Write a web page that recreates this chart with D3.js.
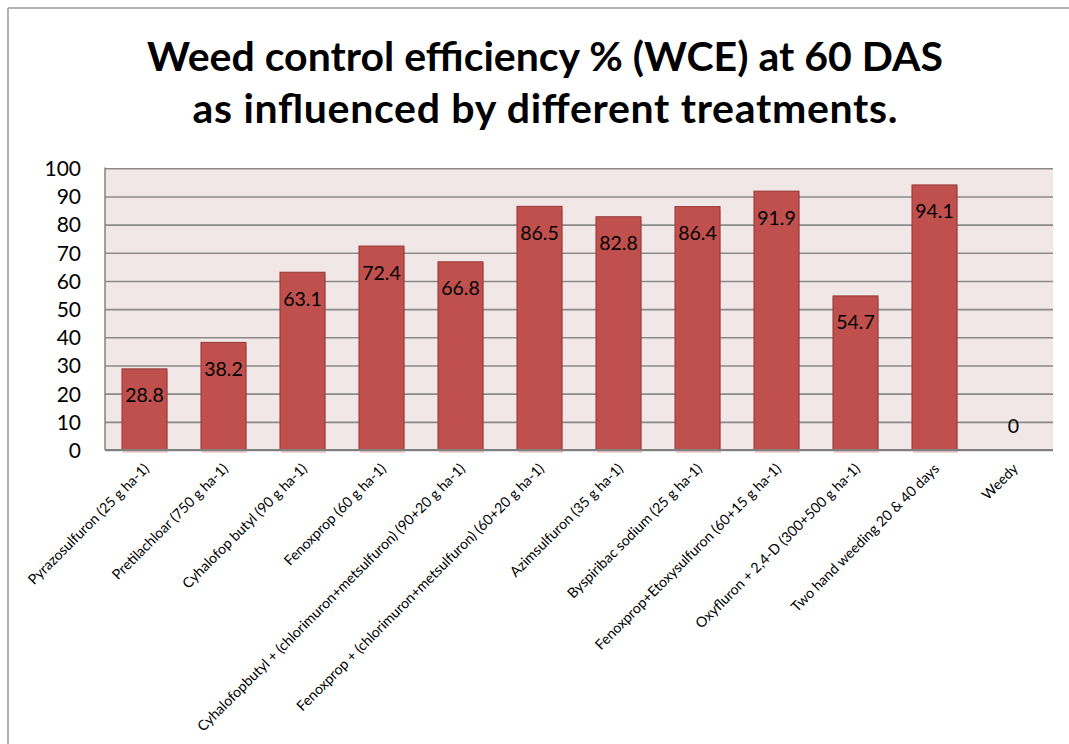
<!DOCTYPE html>
<html><head><meta charset="utf-8">
<script src="https://cdn.jsdelivr.net/npm/d3@7"></script>
<style>
html,body{margin:0;padding:0;background:#fff;}
svg{display:block;}
text{font-family:Lato,"Open Sans",sans-serif;fill:#000;}
</style></head>
<body>
<svg id="chart" width="1069" height="744"></svg>
<script>
const categories = [
  "Pyrazosulfuron (25 g ha-1)",
  "Pretilachloar (750 g ha-1)",
  "Cyhalofop butyl (90 g ha-1)",
  "Fenoxprop (60 g ha-1)",
  "Cyhalofopbutyl + (chlorimuron+metsulfuron) (90+20 g ha-1)",
  "Fenoxprop + (chlorimuron+metsulfuron) (60+20 g ha-1)",
  "Azimsulfuron (35 g ha-1)",
  "Byspiribac sodium (25 g ha-1)",
  "Fenoxprop+Etoxysulfuron (60+15 g ha-1)",
  "Oxyfluron + 2,4-D (300+500 g ha-1)",
  "Two hand weeding 20 & 40 days",
  "Weedy"
];
const values = [28.8, 38.2, 63.1, 72.4, 66.8, 86.5, 82.8, 86.4, 91.9, 54.7, 94.1, 0];
const yTicks = [0, 10, 20, 30, 40, 50, 60, 70, 80, 90, 100];
const titleLines = ["Weed control efficiency % (WCE) at 60 DAS", "as influenced by different treatments."];

const svg = d3.select("#chart");
const plot = {left: 105, right: 1053, top: 168.3, bottom: 450};

// outer chart border (top and left visible)
svg.append("line").attr("x1", 8).attr("x2", 1069).attr("y1", 8).attr("y2", 8)
  .attr("stroke", "#9a9a9a").attr("stroke-width", 1.5);
svg.append("line").attr("x1", 8).attr("x2", 8).attr("y1", 8).attr("y2", 744)
  .attr("stroke", "#9a9a9a").attr("stroke-width", 1.5);

// title
const titleBase = [71, 123];
const titleWidths = [796, 705];
const t0 = svg.append("text").attr("x", 545).attr("y", titleBase[0])
  .attr("text-anchor", "middle").attr("font-weight", "bold")
  .attr("font-size", 40).text(titleLines[0]);
const fs = 40 * titleWidths[0] / t0.node().getComputedTextLength();
t0.attr("font-size", fs);
const t1 = svg.append("text").attr("x", 545).attr("y", titleBase[1])
  .attr("text-anchor", "middle").attr("font-weight", "bold")
  .attr("font-size", fs).text(titleLines[1]);
t1.attr("textLength", titleWidths[1]).attr("lengthAdjust", "spacing");

const x = d3.scaleBand().domain(categories).range([plot.left, plot.right])
  .paddingInner(0.43).paddingOuter(0.215);
const y = d3.scaleLinear().domain([0, 100]).range([plot.bottom, plot.top]);

// plot background
svg.append("rect").attr("x", plot.left).attr("y", plot.top)
  .attr("width", plot.right - plot.left).attr("height", plot.bottom - plot.top)
  .attr("fill", "#f2e7e7");

// gridlines
const yAxis = d3.axisLeft(y).tickValues(yTicks).tickSize(-(plot.right - plot.left)).tickFormat(d3.format("d"));
const gy = svg.append("g").attr("transform", `translate(${plot.left},0)`).call(yAxis);
gy.select(".domain").remove();
gy.selectAll(".tick line").attr("stroke", "#8a8a8a").attr("stroke-width", 1.6);
gy.selectAll(".tick text").attr("x", 81 - plot.left).attr("dy", "0.35em")
  .attr("font-size", 21).attr("fill", "#000").attr("font-family", "Lato, 'Open Sans', sans-serif");

// left axis line
svg.append("line").attr("x1", plot.left).attr("x2", plot.left).attr("y1", plot.top - 0.8).attr("y2", plot.bottom)
  .attr("stroke", "#8a8a8a").attr("stroke-width", 1.6);

// bar shadows
svg.append("g").selectAll("rect").data(values).join("rect")
  .attr("x", (d, i) => x(categories[i]) + 1)
  .attr("y", d => y(d) + 3)
  .attr("width", x.bandwidth())
  .attr("height", d => plot.bottom - y(d))
  .attr("fill", "rgba(192,80,77,0.25)");

// bars
svg.append("g").selectAll("rect").data(values).join("rect")
  .attr("x", (d, i) => x(categories[i]))
  .attr("y", d => y(d))
  .attr("width", x.bandwidth())
  .attr("height", d => plot.bottom - y(d))
  .attr("fill", "#c0504d").attr("stroke", "#953735").attr("stroke-width", 1);

// bottom axis line
svg.append("line").attr("x1", plot.left).attr("x2", plot.right).attr("y1", plot.bottom).attr("y2", plot.bottom)
  .attr("stroke", "#808080").attr("stroke-width", 2);

// data labels
svg.append("g").selectAll("text").data(values).join("text")
  .attr("x", (d, i) => x(categories[i]) + x.bandwidth() / 2)
  .attr("y", d => d === 0 ? plot.bottom - 17 : y(d) + 33.5)
  .attr("text-anchor", "middle").attr("font-size", 19.5)
  .text(d => d);

// category labels
svg.append("g").selectAll("text").data(categories).join("text")
  .attr("text-anchor", "end").attr("font-size", 14.2)
  .attr("transform", d => `translate(${x(d) + x.bandwidth() / 2 + 2},${466}) rotate(-45)`)
  .attr("dy", "0.35em")
  .text(d => d);
</script>
</body></html>
